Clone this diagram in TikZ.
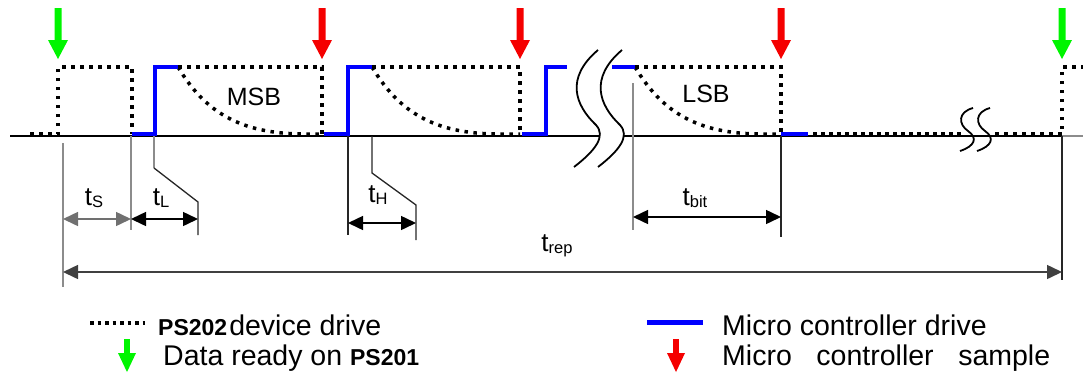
\documentclass[tikz,border=0pt]{standalone}
\usepackage{fontspec}
\setmainfont{Liberation Sans}
\usetikzlibrary{arrows.meta}
\definecolor{sgreen}{RGB}{0,245,0}
\definecolor{sred}{RGB}{245,0,0}
\definecolor{sblue}{RGB}{0,0,255}
\definecolor{lgray}{RGB}{140,140,140}
\tikzset{
  pics/bigarrow/.style={code={\fill[#1] (-3.5,0) -- (3.5,0) -- (3.5,32) -- (10,32) -- (0,51) -- (-10,32) -- (-3.5,32) -- cycle;}},
  pics/legarrow/.style={code={\fill[#1] (-2.8,0) -- (2.8,0) -- (2.8,14) -- (9,14) -- (0,33) -- (-9,14) -- (-2.8,14) -- cycle;}},
}
\begin{document}
\begin{tikzpicture}[x=1pt,y=-1pt,
  dev/.style={line width=3.5pt, dash pattern=on 3.5pt off 5.5pt, black},
  mcu/.style={line width=4.5pt, sblue},
  baseln/.style={line width=1.3pt, black},
  tickg/.style={line width=1.3pt, lgray},
  tickb/.style={line width=1.3pt, black!85},
  brk/.style={line width=1.8pt, black},
  dimarr/.style={line width=1.5pt, {Triangle[length=15pt,width=14pt]}-{Triangle[length=15pt,width=14pt]}},
  lbl/.style={inner sep=0pt, font=\fontsize{25}{25}\selectfont},
  tlbl/.style={inner sep=0pt, anchor=base},
  leg/.style={inner sep=0pt, anchor=base west, font=\fontsize{28.5}{30}\selectfont},
]
\useasboundingbox (0,0) rectangle (1083,378);
\newcommand\tsub[1]{{\fontsize{26}{26}\selectfont t}\raisebox{-2pt}{\fontsize{16.5}{16.5}\selectfont #1}}

% baseline
\draw[baseln] (10,136) -- (600,136);
\draw[baseln] (624,136) -- (1062,136);
\draw[tickg] (1062,136) -- (1083,136);

% device drive (dotted)
\draw[dev] (30,134) -- (58,134) -- (58,67) -- (132,67) -- (132,134);
\draw[dev] (178,67) -- (322,67) -- (322,134);
\draw[dev] (178,67) .. controls (205,112) and (240,134) .. (305,134) -- (322,134);
\draw[dev] (372,67) -- (520,67) -- (520,134);
\draw[dev] (372,67) .. controls (399,112) and (434,134) .. (499,134) -- (520,134);
\draw[dev] (635,67) -- (781,67) -- (781,134);
\draw[dev] (635,67) .. controls (662,112) and (697,134) .. (762,134) -- (781,134);
\draw[dev, dash pattern=on 3.5pt off 4.5pt] (813,134) -- (963,134);
\draw[dev] (995,134) -- (1062,134) -- (1062,67) -- (1083,67);

% micro controller drive (blue)
\draw[mcu] (132,134) -- (155,134) -- (155,67) -- (178,67);
\draw[mcu] (324,134) -- (348,134) -- (348,67) -- (372,67);
\draw[mcu] (522,134) -- (546,134) -- (546,67) -- (567,67);
\draw[mcu] (612,67) -- (635,67);
\draw[mcu] (781,134) -- (808,134);

% big break
\draw[brk] (598,50) .. controls (565,78) and (575,105) .. (596,125) .. controls (606,136) and (596,150) .. (574,167);
\draw[brk] (622,50) .. controls (589,78) and (599,105) .. (620,125) .. controls (630,136) and (620,150) .. (598,167);
% small break
\draw[brk] (973,108) .. controls (958,112) and (958,124) .. (968,131) .. controls (978,138) and (975,146) .. (960,151);
\draw[brk] (990,108) .. controls (975,112) and (975,124) .. (985,131) .. controls (995,138) and (992,146) .. (977,151);

% arrows (data ready / sample)
\pic at (58,8) {bigarrow=sgreen};
\pic at (322,8) {bigarrow=sred};
\pic at (520,8) {bigarrow=sred};
\pic at (781,8) {bigarrow=sred};
\pic at (1062,8) {bigarrow=sgreen};

% extension lines
\draw[tickg] (63,143) -- (63,287);
\draw[tickg] (131,136) -- (131,230);
\draw[tickg] (154,136) -- (154,168);
\draw[tickb] (154,168) -- (198,202) -- (198,235);
\draw[tickb] (348,136) -- (348,235);
\draw[tickb] (372,136) -- (372,173) -- (416,205) -- (416,240);
\draw[tickg] (633,83) -- (633,230);
\draw[tickb] (781,136) -- (781,237);
\draw[tickb] (1062,136) -- (1062,280);

% dimension coordinates
\coordinate (s1) at (63,219);
\coordinate (s2) at (131,219);
\coordinate (l2) at (198,219);
\coordinate (h1) at (348,223);
\coordinate (h2) at (416,223);
\coordinate (b1) at (633,217);
\coordinate (b2) at (781,217);
\coordinate (r1) at (63,272);
\coordinate (r2) at (1062,272);
\draw[dimarr, lgray!80!black] (s1) -- (s2);
\draw[dimarr] (s2) -- (l2);
\draw[dimarr] (h1) -- (h2);
\draw[dimarr] (b1) -- (b2);
\draw[dimarr, black!75] (r1) -- (r2);

% labels
\node[lbl, anchor=base] (msb) at (254,105) {MSB};
\node[lbl, anchor=base] (lsb) at (706,102) {LSB};
\node[tlbl] (ts) at (94,205) {\tsub{S}};
\node[tlbl] (tl) at (161,205) {\tsub{L}};
\node[tlbl] (th) at (378,202) {\tsub{H}};
\node[tlbl] (tb) at (695,205) {\tsub{bit}};
\node[tlbl] (tr) at (557,251) {\tsub{rep}};

% legend
\draw[line width=4.5pt, dash pattern=on 3.5pt off 4pt] (90,323) -- (145,323);
\node[leg] (leg1) at (158,335) {{\fontsize{23}{23}\selectfont\bfseries PS202}\hspace{2pt}device drive};
\pic at (127,339) {legarrow=sgreen};
\node[leg] (leg2) at (163,365) {Data ready on {\fontsize{23}{23}\selectfont\bfseries PS201}};
\draw[line width=5pt, sblue] (647,322) -- (703,322);
\node[leg] (leg3) at (722,335) {Micro controller drive};
\pic at (676,339) {legarrow=sred};
\node[leg] (leg4) at (722,365) {\makebox[328pt][s]{Micro controller sample}};
\end{tikzpicture}
\end{document}
